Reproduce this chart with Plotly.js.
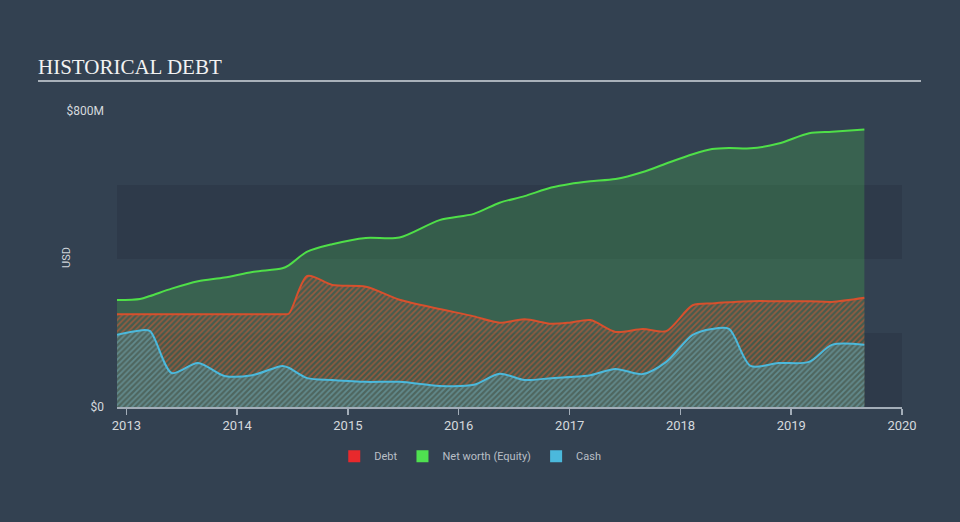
<!DOCTYPE html>
<html>
<head>
<meta charset="utf-8">
<script src="https://cdn.plot.ly/plotly-3.0.1.min.js"></script>
<style>
html,body{margin:0;padding:0;background:#334151;}
#chart{width:960px;height:522px;}
</style>
</head>
<body>
<div id="chart"></div>
<script>
// Data (USD millions)
const dates = [
  '2012-12-01','2013-02-15','2013-03-20','2013-05-30','2013-08-25','2013-11-20',
  '2014-02-20','2014-05-30','2014-06-20','2014-08-20','2014-11-10','2015-03-01',
  '2015-06-20','2015-10-30','2016-02-20','2016-05-15','2016-08-05','2016-11-01',
  '2017-01-01','2017-03-10','2017-06-01','2017-08-30','2017-11-15','2018-02-10',
  '2018-04-15','2018-06-10','2018-08-20','2018-11-20','2019-03-01','2019-05-15',
  '2019-08-30'
];
const debt = [
  251,251,251,251,251,251,
  251,251,252,354,330,325,
  290,265,245,228,237,225,
  228,235,203,211,205,275,
  280,283,286,286,286,284,
  295
];
const equity = [
  289,292,300,320,340,350,
  365,375,383,420,440,457,
  458,505,522,552,570,593,
  603,610,616,635,658,683,
  697,700,699,712,740,744,
  750
];
const cash = [
  195,207,205,92,119,84,
  86,111,106,78,73,68,
  68,57,60,90,73,78,
  81,86,103,89,122,195,
  211,211,111,119,122,168,
  168
];
const seriesNames = ['Debt','Net worth (Equity)','Cash'];
const legendColors = ['#e8292c','#4fe050','#4bb9dc'];
const yTickVals = [0, 800];
const yTickText = ['$0', '$800M'];
const xTickVals = ['2013-01-01','2014-01-01','2015-01-01','2016-01-01','2017-01-01','2018-01-01','2019-01-01','2020-01-01'];
const xTickText = ['2013','2014','2015','2016','2017','2018','2019','2020'];

const traces = [
  {
    x: dates, y: equity, type: 'scatter', mode: 'lines', name: seriesNames[1],
    line: {color: '#4fdf48', width: 2, shape: 'spline', smoothing: 0.8},
    fill: 'tozeroy', fillcolor: 'rgba(76,200,80,0.25)', showlegend: false, hoverinfo: 'skip'
  },
  {
    x: dates, y: debt, type: 'scatter', mode: 'lines', name: seriesNames[0],
    line: {color: '#d7502d', width: 2, shape: 'spline', smoothing: 0.8},
    fill: 'tozeroy', fillcolor: 'rgba(0,0,0,0)',
    fillpattern: {shape: '/', fgcolor: 'rgba(205,90,55,0.6)', bgcolor: 'rgba(95,80,70,0.35)', size: 4, solidity: 0.4},
    showlegend: false, hoverinfo: 'skip'
  },
  {
    x: dates, y: cash, type: 'scatter', mode: 'lines', name: seriesNames[2],
    line: {color: '#4bb9dc', width: 2, shape: 'spline', smoothing: 0.8},
    fill: 'tozeroy', fillcolor: 'rgba(0,0,0,0)',
    fillpattern: {shape: '/', fgcolor: 'rgba(75,170,185,0.55)', bgcolor: 'rgba(85,115,118,0.5)', size: 4, solidity: 0.4},
    showlegend: false, hoverinfo: 'skip'
  }
];
// legend swatches
seriesNames.forEach((n, i) => {
  traces.push({x: [null], y: [null], type: 'bar', name: n, marker: {color: legendColors[i]}, showlegend: true});
});

const layout = {
  width: 960, height: 522,
  paper_bgcolor: '#334151', plot_bgcolor: 'rgba(0,0,0,0)',
  margin: {l: 117, r: 58, t: 111, b: 115},
  font: {family: 'Roboto, "Open Sans", Arial, sans-serif', color: '#d0d5da'},
  title: {
    text: 'HISTORICAL DEBT',
    font: {family: '"Liberation Serif", "Times New Roman", serif', size: 21, color: '#f2f2f2'},
    x: 38/960, xanchor: 'left', xref: 'container',
    y: 1 - 67/522, yanchor: 'middle', yref: 'container'
  },
  showlegend: true,
  legend: {
    orientation: 'h', x: 0.45, xanchor: 'center', y: -0.166, yanchor: 'middle',
    font: {size: 11, color: '#b9bfc6'}, bgcolor: 'rgba(0,0,0,0)', itemwidth: 30
  },
  xaxis: {
    type: 'date', range: ['2012-12-01', '2020-01-01'],
    tickvals: xTickVals, ticktext: xTickText,
    showgrid: false, zeroline: false,
    showline: true, linecolor: '#a3adb8', linewidth: 1.5,
    ticks: 'outside', ticklen: 6, tickcolor: '#a3adb8', tickwidth: 1.5,
    tickfont: {size: 13, color: '#d5d9dd'}
  },
  yaxis: {
    range: [0, 800], tickvals: yTickVals, ticktext: yTickText,
    showgrid: false, zeroline: false, showline: false, ticks: '',
    ticklabelstandoff: 12,
    tickfont: {size: 12, color: '#d5d9dd'},
    fixedrange: true
  },
  shapes: [
    {type: 'rect', xref: 'paper', yref: 'y', x0: 0, x1: 1, y0: 0, y1: 200, fillcolor: '#2e3a4a', line: {width: 0}, layer: 'below'},
    {type: 'rect', xref: 'paper', yref: 'y', x0: 0, x1: 1, y0: 400, y1: 600, fillcolor: '#2e3a4a', line: {width: 0}, layer: 'below'},
    {type: 'line', xref: 'paper', yref: 'paper', x0: (38-117)/785, x1: (921-117)/785, y0: (407-81)/296, y1: (407-81)/296, line: {color: '#a9b1ba', width: 2}}
  ],
  annotations: [
    {text: 'USD', xref: 'paper', yref: 'paper', x: (66-117)/785, y: (407-258)/296, textangle: -90, showarrow: false,
     font: {size: 11, color: '#d0d5da'}, xanchor: 'center', yanchor: 'middle'}
  ]
};

Plotly.newPlot('chart', traces, layout, {displayModeBar: false, staticPlot: true});
</script>
</body>
</html>
